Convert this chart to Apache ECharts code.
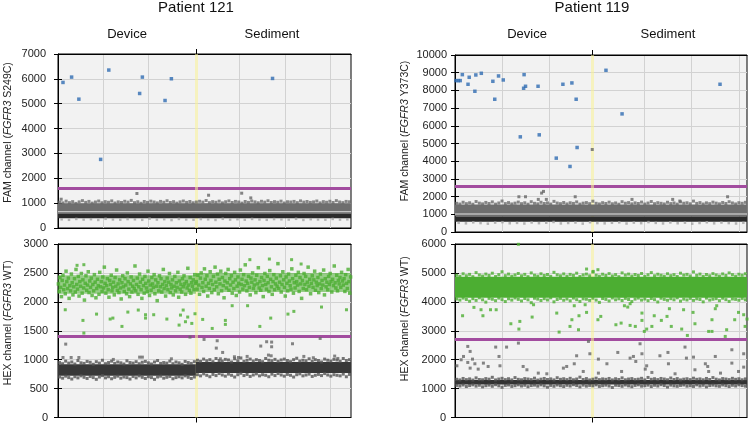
<!DOCTYPE html>
<html><head><meta charset="utf-8">
<script src="https://cdn.jsdelivr.net/npm/echarts@6/dist/echarts.min.js"></script>
<style>html,body{margin:0;padding:0;background:#fff}#c{width:749px;height:423px}</style>
</head><body><div id="c"></div>
<script>
// ---------------- DATA ----------------
// x = droplet position along the run (arbitrary event units), y = amplitude
const tlXMax = 6.46, tlDivider = 3.04, tlThreshold = 1590;
const trXMax = 6.17, trDivider = 2.90, trThreshold = 2600;
const blThreshold = 1400, brThreshold = 2690;
const tlYTicks = [0, 7000, 1000], blYTicks = [0, 3000, 500], trYTicks = [0, 10000, 1000], brYTicks = [0, 6000, 1000];
const tlGridX = [1, 2, 4, 5, 6], trGridX = [1, 2, 4, 5, 6];

// Patient 121 FAM
const tlBlue = [[0.11,5856],[0.30,6071],[0.46,5183],[0.94,2760],[1.12,6354],[1.80,5412],[1.86,6071],[2.36,5129],[2.50,6004],[4.73,6017]];
const tlGrayOut = [[0.07,1158],[1.74,1387],[3.32,1319],[4.05,1400],[4.25,1211]];
const tlGrayBand = [560, 1000], tlLightRow = [635, 680], tlBlackBand = [390, 560];
const tlGrayTop = [1040,1010,1080,1020,1060,990,1050,1100,1030,1070,1000,1045,1085,1015,1060,1035,1090,1005,1050,1025,1075,1040,1110,1020,1055,995,1065,1030,1080,1045,1010,1070,1035,1095,1025,1060,1000,1050,1085,1030,1065,1015,1045,1075,1040,1105,1020,1060,1035,1080,1010,1055,1090,1025,1070,1045,1000,1065,1030,1085,1050,1015,1075,1040,1095,1025,1060,1035,1080,1005,1055,1045,1070,1020,1090,1040,1065,1030,1050,1085,1010,1060,1035,1075,1025,1100,1045,1020,1070,1055];
const tlGraySparse = [350,330,365,340,355,325,370,345,335,360,350,330,375,340,355,320,365,345,335,360,350,325,370,340,355,335,365,345,330,360,350,340,370,325,355,345,335,365,340,350];

// Patient 121 HEX
const blDarkDev = [720, 920], blDarkSed = [770, 960];
const blGreenCoreDev = [2140, 2460], blGreenCoreSed = [2170, 2500];
const blDarkTopDev = [950,930,975,940,960,925,985,945,935,970,955,920,965,940,990,930,950,975,935,960,945,925,980,950,940,965,930,955,970,945,925,960,985,935,950,940,975,930,960,945,920,970,950,935,965];
const blDarkBotDev = [700,680,715,690,665,705,685,720,695,675,710,690,660,700,725,685,705,670,695,715,680,700,690,665,710,685,720,695,675,705,690,660,700,715,680,695,710,670,690,705,685,720,695,675,700];
const blDarkTopSed = [990,970,1010,980,1000,965,1020,985,975,1005,995,960,1015,980,1030,970,990,1010,975,1000,985,965,1020,990,980,1005,970,995,1010,985,965,1000,1025,975,990,980,1015,970,1000,985,960,1010,990,975,1005,995,970,1020,985,1000];
const blDarkBotSed = [740,720,755,730,705,745,725,760,735,715,750,730,700,740,765,725,745,710,735,755,720,740,730,705,750,725,760,735,715,745,730,700,740,755,720,735,750,710,730,745,725,760,735,715,740,730,720,750,705,745];
const blGreenDev = [2310,2180,2420,2250,2090,2370,2460,2210,2290,2140,2530,2350,2230,2410,2060,2280,2190,2480,2330,2120,
2260,2400,2170,2560,2300,2220,2440,2100,2350,2270,2490,2150,2380,2240,2030,2320,2450,2200,2290,2520,
2160,2360,2250,2410,2110,2300,2190,2470,2340,2070,2230,2390,2280,2130,2510,2260,2350,2180,2430,2240,
2600,2320,2150,2280,2400,2210,2080,2370,2300,2460,2190,2250,2340,2120,2420,2270,2550,2200,2310,2160,
2380,2240,2050,2330,2450,2260,2180,2400,2290,2140,2500,2350,2220,2090,2310,2430,2170,2270,2370,2230,
2620,2190,2300,2410,2130,2260,2480,2340,2210,2060,2390,2280,2150,2440,2320,2240,2180,2530,2360,2110,
2290,2200,2420,2310,2250,2470,2140,2380,2270,2020,2330,2190,2450,2260,2400,2170,2300,2560,2230,2350,
2100,2280,2410,2210,2340,2490,2160,2300,2240,2380,2120,2270,2440,2190,2330,2250,2510,2080,2360,2220,
2300,2170,2400,2260,2450,2310,2130,2350,2240,2580,2290,2200,2420,2150,2330,2270,2380,2210,2470,2320];
const blGreenSed = [2350,2220,2460,2290,2130,2410,2500,2250,2330,2180,2570,2390,2270,2450,2100,2320,2230,2520,2370,2160,
2300,2440,2210,2600,2340,2260,2480,2140,2390,2310,2530,2190,2420,2280,2070,2360,2490,2240,2330,2560,
2200,2400,2290,2450,2150,2340,2230,2510,2380,2110,2270,2430,2320,2170,2550,2300,2390,2220,2470,2280,
2640,2360,2190,2320,2440,2250,2120,2410,2340,2500,2230,2290,2380,2160,2460,2310,2590,2240,2350,2200,
2420,2280,2090,2370,2490,2300,2220,2440,2330,2180,2540,2390,2260,2130,2350,2470,2210,2310,2410,2270,
2660,2230,2340,2450,2170,2300,2520,2380,2250,2100,2430,2320,2190,2480,2360,2280,2220,2570,2400,2150,
2330,2240,2460,2350,2290,2510,2180,2420,2310,2060,2370,2230,2490,2300,2440,2210,2340,2600,2270,2390,
2140,2320,2450,2250,2380,2530,2200,2340,2280,2420,2160,2310,2480,2230,2370,2290,2550,2120,2400,2260,
2340,2210,2440,2300,2490,2350,2170,2390,2280,2620,2330,2240,2460,2190,2370,2310,2420,2250,2510,2360,
2290,2400,2180,2470,2320,2230,2560,2350,2150,2430];
const blGreenOut = [[0.16,1863],[0.55,1679],[0.57,1460],[0.85,1788],[1.15,1702],[1.21,1719],[1.41,1575],[1.54,1823],[1.77,1858],[1.93,1777],[1.93,1719],[2.11,1777],[2.40,1702],[2.67,1598],[2.70,1771],[2.76,1858],[2.86,1737],[2.95,1627],[2.81,1656],[3.02,1794],[3.19,1696],[3.40,1540],[3.69,1679],[3.69,1610],[3.84,1933],[4.18,1933],[4.45,1575],[4.69,1719],[5.07,1788],[5.20,1835],[5.81,1910],[6.36,1863],[0.57,2642],[0.42,2631],[4.23,2729],[4.66,2740],[5.15,2729],[5.36,2654]];
const blGrayOut = [[0.17,1269],[0.11,1038],[0.29,1038],[0.46,1038],[1.22,1004],[1.80,1044],[1.86,1044],[2.50,1015],[2.91,1390],[3.22,1350],[3.49,1200],[3.51,1327],[3.63,1125],[3.58,1015],[3.89,1050],[3.98,1038],[4.17,1056],[4.47,1235],[4.60,1310],[4.71,1304],[4.71,1223],[4.64,1079],[4.70,1067],[5.17,1275],[5.42,1056],[5.63,1033],[5.78,1367],[6.10,1062],[6.17,1021]];

// Patient 119 FAM
const trBlue = [[0.02,8553],[0.07,8553],[0.11,8553],[0.155,8891],[0.275,8346],[0.30,8741],[0.42,7951],[0.44,8872],[0.556,8966],[0.80,8515],[0.84,7500],[0.92,8816],[1.02,8590],[1.38,5376],[1.46,8891],[1.45,8120],[1.49,8233],[1.755,8233],[1.78,5489],[2.14,4173],[2.28,8346],[2.43,3703],[2.47,8421],[2.56,7500],[2.58,4774],[3.19,9135],[3.53,6673],[5.60,8346]];
const trGrayOut = [[2.90,4662],[1.35,1992],[1.49,1992],[1.76,1842],[1.83,2199],[1.87,2293],[1.93,1842],[2.54,1992],[3.74,1842],[4.60,1842],[4.75,1748],[5.76,1992]];
const trGrayBand = [880, 1560], trLightRow = [975, 1060], trBlackBand = [580, 880];
const trGrayTop = [1620,1580,1680,1600,1650,1570,1720,1630,1590,1670,1610,1700,1575,1640,1750,1605,1660,1585,1630,1690,1600,1650,1570,1710,1620,1590,1680,1610,1645,1580,1730,1635,1600,1665,1585,1650,1615,1700,1575,1630,1660,1600,1740,1620,1585,1655,1610,1685,1595,1640,1570,1710,1625,1660,1590,1645,1610,1690,1580,1635,1720,1600,1655,1620,1585,1680,1605,1640,1575,1700,1625,1650,1595,1745,1615,1660,1580,1645,1600,1685,1630,1590,1665,1610,1710,1640,1585,1655,1620,1675];
const trGraySparse = [520,490,545,505,470,530,555,495,515,480,540,500,525,565,485,510,535,475,550,505,490,520,545,480,530,500,560,515,485,540,495,525,470,510,550,490,535,505,480,520];

// Patient 119 HEX
const brGreenCore = [4140, 4870], brDarkCore = [1140, 1295];
const brGreenTop = [4920,4880,4970,4900,4950,4870,5010,4930,4890,4960,4910,4990,4875,4940,5040,4905,4960,4885,4930,4980,4900,4950,4870,5000,4920,4890,4970,4910,4945,4880,5020,4935,4900,4965,4885,4950,4915,4990,4875,4930,4960,4900,5030,4920,4885,4955,4910,4975,4895,4940,4870,5000,4925,4960,4890,4945,4910,4980,4880,4935,5010,4900,4955,4920,4885,4970,4905,4940,4875,4990,4925,4950,4895,5035,4915,4960,4880,4945,4900,4975,4930,4890,4965,4910,5000,4940,4885,4955,4920,4970];
const brGreenBot = [4100,4060,4130,4080,4020,4110,4050,4140,4070,3990,4120,4090,4040,4130,4075,4010,4105,4060,4135,4085,4030,4115,4070,3970,4125,4095,4045,4110,4065,4140,4000,4080,4120,4055,4100,4035,4130,4075,4015,4105,4090,4050,4125,4060,3980,4115,4085,4030,4135,4070,4105,4045,4120,4080,4010,4095,4130,4060,4100,4040,4115,4075,3995,4125,4085,4055,4110,4070,4140,4025,4095,4065,4120,4050,4105,4080,4000,4130,4060,4090,4110,4040,4125,4075,4015,4100,4085,4055,4120,4070];
const brDarkTop = [1320,1300,1350,1310,1335,1295,1370,1315,1305,1345,1325,1390,1300,1330,1355,1310,1340,1300,1380,1320,1305,1345,1330,1310,1360,1295,1325,1350,1315,1335,1300,1375,1320,1340,1310,1355,1305,1330,1395,1315,1345,1300,1325,1360,1310,1335,1320,1350,1300,1340,1315,1370,1305,1330,1345,1310,1325,1355,1300,1385,1320,1340,1310,1350,1330,1305,1365,1315,1345,1300,1325,1340,1310,1360,1320,1335,1305,1350,1315,1380,1325,1300,1345,1330,1310,1355,1320,1340,1305,1335];
const brDarkBot = [1110,1090,1125,1070,1105,1130,1085,1115,1060,1100,1120,1080,1135,1095,1045,1110,1125,1075,1100,1130,1090,1115,1065,1105,1120,1085,1130,1095,1050,1110,1080,1125,1100,1070,1115,1090,1135,1105,1060,1120,1085,1110,1095,1130,1075,1100,1120,1090,1040,1115,1105,1080,1125,1095,1065,1110,1130,1085,1100,1120,1070,1115,1090,1135,1105,1055,1120,1095,1080,1110,1125,1085,1100,1075,1130,1090,1115,1060,1105,1120,1095,1080,1125,1100,1070,1115,1090,1130,1105,1085];
const brGreenOut = [[0.16,3519],[0.40,3808],[0.55,3727],[0.59,3519],[0.75,3727],[0.87,3727],[1.18,3242],[1.37,3323],[1.35,3058],[1.63,3473],[1.66,3900],[2.15,3611],[2.20,2954],[2.43,3150],[2.47,3381],[2.61,3035],[2.62,3519],[2.52,3865],[2.75,3900],[2.78,3635],[3.02,3381],[3.08,3496],[3.40,3208],[3.51,3265],[3.58,3865],[3.65,3819],[3.70,3935],[3.70,3185],[3.81,3150],[3.95,3611],[3.95,3358],[4.00,2977],[4.05,3058],[4.16,3150],[4.21,3519],[4.36,3358],[4.48,3496],[4.53,3762],[4.57,3150],[4.79,3058],[4.83,3727],[4.91,2838],[5.03,3635],[5.07,3242],[5.36,2977],[5.43,2977],[5.43,3381],[5.50,3762],[5.53,3865],[5.74,3035],[5.71,2804],[5.91,3381],[5.99,3635],[6.10,3554],[6.13,3150],[6.17,3404],[1.34,5990],[2.78,5134],[2.92,5052],[3.02,5111]];
const brGrayOut = [[0.04,1788],[0.13,1996],[0.18,2111],[0.27,2458],[0.32,2285],[0.37,2019],[0.42,1858],[0.27,1904],[0.32,1708],[0.49,1673],[0.60,1881],[0.70,1765],[0.86,2435],[0.93,2111],[0.95,1788],[1.09,2435],[1.34,2573],[1.44,1765],[1.52,1650],[1.76,1535],[1.94,1511],[2.29,1708],[2.36,1765],[2.52,1858],[2.57,2135],[2.71,1592],[2.82,2631],[2.85,2204],[3.03,2019],[3.03,1535],[3.21,1858],[3.44,2250],[3.52,1592],[3.70,2054],[3.77,2111],[3.82,1938],[3.91,2550],[3.95,2204],[4.02,1673],[4.05,1788],[4.16,1558],[4.33,2135],[4.50,2250],[4.51,1858],[4.65,1511],[4.86,2435],[4.89,2054],[5.04,2088],[5.07,1650],[5.29,1858],[5.34,1765],[5.36,1592],[5.50,2111],[5.61,1535],[5.85,2342],[5.85,1881],[5.99,1592],[6.10,2204],[6.10,1742]];

// ---------------- STYLE / BUILD ----------------
const FONT = '"Liberation Sans", Arial, sans-serif';
const C = { blue:'#2f6bb2', green:'#4cae32', greenCore:'rgba(76,174,50,0.55)', gray:'#6e6e6e', grayEdge:'#6a6a6a', dark:'#2a2a2a', darkEdge:'#525252', sparse:'#a3a3a3', purple:'#a24c9f', grid:'#d2d2d2', bg:'#f2f2f2' };
const LAYER = 1; // all data marks on a canvas layer above the axes and grid lines

function spread(arr, x0, x1) { const n = arr.length; return arr.map((y, i) => [x0 + (i + 0.5) * (x1 - x0) / n, y]); }
function band(r, x0, x1) { return [x0, x1, r[0], r[1]]; }
function pts(gi, data, color, size, z) {
  return { type:'scatter', xAxisIndex: gi*3, yAxisIndex: gi*2, data: data, symbol:'rect', symbolSize: size, itemStyle:{ color: color }, z: z, zlevel: LAYER, silent: true, animation:false };
}
function bands(gi, list, colors) {
  return { type:'custom', xAxisIndex: gi*3, yAxisIndex: gi*2, z:1, zlevel: LAYER, silent:true, animation:false, clip:true,
    encode:{ x:[0,1], y:[2,3] }, data: list,
    renderItem: function (params, api) {
      const p0 = api.coord([api.value(0), api.value(3)]);
      const p1 = api.coord([api.value(1), api.value(2)]);
      return { type:'rect', shape:{ x:p0[0], y:p0[1], width:p1[0]-p0[0], height:p1[1]-p0[1] },
        style:{ fill: colors[params.dataIndex] } };
    } };
}
function emptyS(gi, z, extra) { return Object.assign({ type:'scatter', xAxisIndex: gi*3, yAxisIndex: gi*2, data: [], z: z, zlevel: LAYER, silent:true, animation:false }, extra); }
function lines(gi, thr, div) {
  return [
    emptyS(gi, 6, { markLine: { silent:true, symbol:['none','none'], label:{show:false}, animation:false,
      lineStyle:{ color:C.purple, width:3, type:'solid' }, data: [{ yAxis: thr }] } }),
    emptyS(gi, 7, { markLine: { silent:true, symbol:['none','none'], label:{show:false}, animation:false,
      lineStyle:{ color:'rgba(250,242,150,0.55)', width:3, type:'solid' }, data: [{ xAxis: div }] } })
  ];
}

const grids = [
  { left:58, top:54, width:293, height:174 },
  { left:58, top:244, width:293, height:174 },
  { left:455, top:55, width:292, height:177 },
  { left:455, top:244, width:292, height:174 }
].map(g => Object.assign(g, { show:true, backgroundColor:C.bg, borderColor:'#000', borderWidth:1 }));

const xInfo = [[tlXMax, tlDivider, tlGridX],[tlXMax, tlDivider, tlGridX],[trXMax, trDivider, trGridX],[trXMax, trDivider, trGridX]];
const xAxes = [];
xInfo.forEach((xi, gi) => {
  ['bottom','top'].forEach(pos => xAxes.push({
    gridIndex: gi, type:'value', min:0, max: xi[0], position: pos,
    axisLine:{ show:true, onZero:false, lineStyle:{ color:'#000', width:1 } },
    axisTick:{ show:true, customValues:[xi[1]], length:5, lineStyle:{ color:'#000' } },
    axisLabel:{ show:false }, splitLine:{ show:false }
  }));
  xAxes.push({
    gridIndex: gi, type:'value', min:0, max: xi[0], position:'bottom',
    axisLine:{ show:false }, axisTick:{ show:false, customValues: xi[2] },
    axisLabel:{ show:false, customValues: xi[2] },
    splitLine:{ show:true, lineStyle:{ color:C.grid, width:1 } }
  });
});

function nameRich(prefix, gene, suffix) { return '{a|' + prefix + '}{b|' + gene + '}{a|' + suffix + '}'; }
const yInfo = [
  { t: tlYTicks, name: nameRich('FAM channel (', 'FGFR3', ' S249C)'), margin: 12, shift: 17 },
  { t: blYTicks, name: nameRich('HEX channel (', 'FGFR3', ' WT)'), margin: 10, shift: 16 },
  { t: trYTicks, name: nameRich('FAM channel (', 'FGFR3', ' Y373C)'), margin: 8, shift: 25 },
  { t: brYTicks, name: nameRich('HEX channel (', 'FGFR3', ' WT)'), margin: 9, shift: 24 }
];
const yAxes = [];
yInfo.forEach((yi, gi) => {
  yAxes.push({
    gridIndex: gi, type:'value', min: yi.t[0], max: yi.t[1], interval: yi.t[2], position:'left',
    axisLine:{ show:true, lineStyle:{ color:'#000', width:1 } },
    axisTick:{ show:true, length:4, lineStyle:{ color:'#000' } },
    axisLabel:{ fontSize:11, color:'#222', fontFamily:FONT, margin: yi.margin, formatter: v => String(v) },
    splitLine:{ show:true, lineStyle:{ color:C.grid, width:1 } },
    name: yi.name, nameLocation:'middle', nameGap:44, nameRotate:90,
    nameTextStyle:{ padding:[0,0,0,yi.shift], rich:{
      a:{ fontSize:10.5, fontFamily:FONT, color:'#222' },
      b:{ fontSize:10.5, fontFamily:FONT, color:'#222', fontStyle:'italic' } } }
  });
  yAxes.push({
    gridIndex: gi, type:'value', min: yi.t[0], max: yi.t[1], interval: yi.t[2], position:'left',
    axisLine:{ show:false }, axisTick:{ show:true, inside:true, length:4, lineStyle:{ color:'#000' } },
    axisLabel:{ show:false }, splitLine:{ show:false }
  });
});

const series = [
  // TL
  bands(0, [ band(tlGrayBand, 0, tlXMax), band(tlLightRow, 0, tlXMax), band(tlBlackBand, 0, tlXMax) ], [C.gray, '#c4c4c4', C.dark]),
  pts(0, spread(tlGrayTop, 0, tlXMax), C.grayEdge, 3, 2),
  pts(0, spread(tlGraySparse, 0, tlXMax), C.sparse, 2.5, 2),
  pts(0, tlGrayOut, '#666', 3, 3),
  pts(0, tlBlue, C.blue, 3.5, 3),
  ...lines(0, tlThreshold, tlDivider),
  // BL
  bands(1, [ band(blDarkDev, 0, tlDivider), band(blDarkSed, tlDivider, tlXMax),
    band(blGreenCoreDev, 0, tlDivider), band(blGreenCoreSed, tlDivider, tlXMax) ], ['#383838', '#383838', C.greenCore, C.greenCore]),
  pts(1, spread(blDarkTopDev, 0, tlDivider), C.darkEdge, 3, 2),
  pts(1, spread(blDarkBotDev, 0, tlDivider), C.darkEdge, 3, 2),
  pts(1, spread(blDarkTopSed, tlDivider, tlXMax), C.darkEdge, 3, 2),
  pts(1, spread(blDarkBotSed, tlDivider, tlXMax), C.darkEdge, 3, 2),
  pts(1, spread(blGreenDev, 0, tlDivider), C.green, 3.5, 3),
  pts(1, spread(blGreenSed, tlDivider, tlXMax), C.green, 3.5, 3),
  pts(1, blGreenOut, C.green, 3, 3),
  pts(1, blGrayOut, '#666', 3, 3),
  ...lines(1, blThreshold, tlDivider),
  // TR
  bands(2, [ band(trGrayBand, 0, trXMax), band(trLightRow, 0, trXMax), band(trBlackBand, 0, trXMax) ], [C.gray, '#bdbdbd', C.dark]),
  pts(2, spread(trGrayTop, 0, trXMax), C.grayEdge, 3, 2),
  pts(2, spread(trGraySparse, 0, trXMax), C.sparse, 2.5, 2),
  pts(2, trGrayOut, '#666', 3, 3),
  pts(2, trBlue, C.blue, 3.5, 3),
  ...lines(2, trThreshold, trDivider),
  // BR
  bands(3, [ band(brGreenCore, 0, trXMax), band(brDarkCore, 0, trXMax) ], [C.green, '#333']),
  pts(3, spread(brGreenTop, 0, trXMax), C.green, 3, 2),
  pts(3, spread(brGreenBot, 0, trXMax), C.green, 3, 2),
  pts(3, spread(brDarkTop, 0, trXMax), C.darkEdge, 3, 2),
  pts(3, spread(brDarkBot, 0, trXMax), C.darkEdge, 3, 2),
  pts(3, brGreenOut, C.green, 3, 3),
  pts(3, brGrayOut, '#666', 3, 3),
  ...lines(3, brThreshold, trDivider)
];

function label(x, y, text, size) {
  return { type:'text', x: x, y: y, silent:true, style:{ text: text, fontSize: size, fontFamily: FONT, fill:'#111',
    textAlign:'center', textVerticalAlign:'middle', align:'center', verticalAlign:'middle' } };
}

const chart = echarts.init(document.getElementById('c'), null, { renderer:'canvas' });
chart.setOption({
  animation:false,
  backgroundColor:'#fff',
  grid: grids, xAxis: xAxes, yAxis: yAxes, series: series,
  graphic: [
    label(196, 8, 'Patient 121', 15), label(127, 34, 'Device', 13), label(272, 34, 'Sediment', 13),
    label(592, 8, 'Patient 119', 15), label(527, 34, 'Device', 13), label(668, 34, 'Sediment', 13)
  ]
});
</script></body></html>
